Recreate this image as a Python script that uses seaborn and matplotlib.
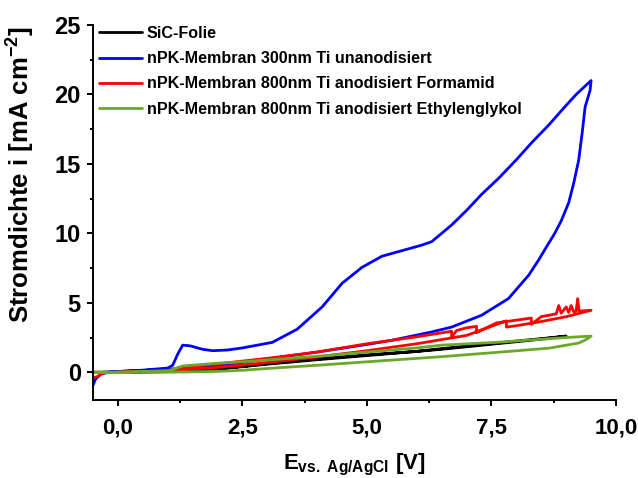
import numpy as np
import pandas as pd
import matplotlib
matplotlib.use("Agg")
import matplotlib.pyplot as plt
import seaborn as sns
from matplotlib.ticker import MultipleLocator, FuncFormatter

# ---------------- data ----------------
labels = ["SiC-Folie",
          "nPK-Membran 300nm Ti unanodisiert",
          "nPK-Membran 800nm Ti anodisiert Formamid",
          "nPK-Membran 800nm Ti anodisiert Ethylenglykol"]
colors = ["#000000", "#0000FF", "#FF0000", "#6BA82A"]

# SiC-Folie (forward + return, almost identical)
sic_E = [-0.5, 0.0, 1.0, 2.0, 2.5, 3.0, 4.0, 5.0, 6.0, 6.5, 7.6, 8.5, 9.0,
         8.5, 7.6, 6.5, 5.0, 4.0, 3.0, 2.0, 1.0, 0.0]
sic_i = [0.0, 0.0, 0.05, 0.25, 0.42, 0.62, 0.95, 1.25, 1.5, 1.7, 2.1, 2.42, 2.6,
         2.38, 2.05, 1.65, 1.2, 0.9, 0.58, 0.22, 0.04, 0.0]

# nPK 300nm unanodisiert
blue_E = [-0.5, -0.45, -0.35, -0.2, 0.0, 0.5, 1.0, 1.1, 1.2, 1.3, 1.45, 1.7, 1.9,
          2.2, 2.5, 3.1, 3.6, 4.1, 4.5, 4.9, 5.3, 5.7, 6.1, 6.3, 6.7, 7.0, 7.3,
          7.64, 8.0, 8.3, 8.65, 8.97, 9.2, 9.5,
          9.48, 9.38, 9.32, 9.25, 9.15, 9.05, 8.9, 8.77, 8.6, 8.45, 8.25, 7.84,
          7.3, 6.7, 6.3, 5.5, 5.0, 4.0, 3.0, 2.5, 2.0, 1.0, 0.0, -0.3]
blue_i = [-0.95, -0.5, -0.15, 0.0, 0.05, 0.15, 0.3, 0.5, 1.3, 1.95, 1.9, 1.65, 1.55,
          1.6, 1.75, 2.15, 3.1, 4.7, 6.4, 7.55, 8.35, 8.75, 9.15, 9.4, 10.6, 11.65, 12.8,
          13.95, 15.3, 16.5, 17.8, 19.1, 20.0, 21.0,
          20.3, 19.1, 17.2, 15.25, 13.6, 12.2, 10.9, 10.0, 9.0, 8.1, 7.0, 5.3,
          4.1, 3.25, 2.9, 2.3, 2.0, 1.45, 0.95, 0.7, 0.5, 0.2, 0.05, 0.0]

# nPK 800nm anodisiert Formamid (noisy loop)
red_E = [-0.5, -0.4, -0.3, 0.0, 1.0, 1.2, 2.0, 3.0, 4.0, 5.0, 6.0, 6.7, 6.7, 6.8,
         7.0, 7.2, 7.2, 7.6, 8.0, 8.3, 8.3, 8.5, 8.8, 8.85, 8.9, 9.0, 9.05,
         9.1, 9.15, 9.2, 9.23, 9.26, 9.5,
         9.0, 8.5, 8.0, 7.8, 7.8, 7.0, 6.0, 5.0, 4.0, 3.0, 2.0, 1.0, 0.0]
red_i = [-0.4, -0.3, -0.05, 0.0, 0.1, 0.3, 0.6, 1.0, 1.45, 2.05, 2.55, 2.95, 2.55, 3.0,
         3.2, 3.3, 2.85, 3.55, 3.75, 3.9, 3.45, 4.0, 4.2, 4.8, 4.25, 4.7, 4.3,
         4.8, 4.35, 4.4, 5.3, 4.4, 4.46,
         4.0, 3.65, 3.35, 3.25, 3.7, 2.65, 2.05, 1.55, 1.1, 0.7, 0.35, 0.1, 0.0]

# nPK 800nm anodisiert Ethylenglykol
green_E = [-0.5, 0.0, 1.0, 1.1, 1.3, 2.0, 2.5, 3.0, 4.0, 5.0, 6.0, 6.5, 7.6, 9.0, 9.5,
           9.4, 9.25, 8.65, 7.64, 6.5, 5.0, 4.0, 3.0, 2.5, 2.0, 1.0, 0.0, -0.5]
green_i = [0.0, 0.0, 0.1, 0.2, 0.45, 0.65, 0.75, 0.88, 1.15, 1.45, 1.75, 1.95, 2.15, 2.5, 2.6,
           2.35, 2.1, 1.73, 1.44, 1.12, 0.75, 0.5, 0.27, 0.14, 0.06, 0.0, 0.0, 0.0]

series = [(sic_E, sic_i), (blue_E, blue_i), (red_E, red_i), (green_E, green_i)]

x_ticks = [0.0, 2.5, 5.0, 7.5, 10.0]
y_ticks = [0, 5, 10, 15, 20, 25]

# ---------------- style ----------------
sns.set_style("ticks")
plt.rcParams["font.family"] = ["Liberation Sans", "DejaVu Sans"]
plt.rcParams["font.weight"] = "bold"
plt.rcParams["mathtext.fontset"] = "custom"
plt.rcParams["mathtext.rm"] = "Liberation Sans:bold"
plt.rcParams["mathtext.it"] = "Liberation Sans:bold"
plt.rcParams["mathtext.bf"] = "Liberation Sans:bold"
for key in ["text.color", "axes.labelcolor", "xtick.color", "ytick.color", "axes.edgecolor"]:
    plt.rcParams[key] = "black"

fig = plt.figure(figsize=(6.38, 4.78), dpi=100)
ax = fig.add_axes([93 / 638, 1 - 400 / 478, (616 - 93) / 638, (400 - 25) / 478])

for (E, I), lab, col in zip(series, labels, colors):
    df = pd.DataFrame({"E": E, "i": I})
    sns.lineplot(data=df, x="E", y="i", sort=False, estimator=None, color=col,
                 linewidth=2.0, label=lab, ax=ax)

ax.set_xlim(-0.5, 10.0)
ax.set_ylim(-2, 25)
ax.set_xticks(x_ticks)
ax.set_yticks(y_ticks)
ax.xaxis.set_minor_locator(MultipleLocator(1.25))
ax.yaxis.set_minor_locator(MultipleLocator(2.5))
ax.xaxis.set_major_formatter(FuncFormatter(lambda v, p: f"{v:.1f}".replace(".", ",")))
ax.yaxis.set_major_formatter(FuncFormatter(lambda v, p: f"{v:.0f}"))

for s in ["top", "right"]:
    ax.spines[s].set_visible(False)
for s in ["left", "bottom"]:
    ax.spines[s].set_linewidth(1.4)
    ax.spines[s].set_color("black")
ax.tick_params(which="major", direction="out", length=4.3, width=1.4, labelsize=17,
               color="black", labelcolor="black")
ax.tick_params(axis="x", which="major", labelsize=16, pad=8)
ax.tick_params(axis="y", which="major", pad=4.5)
ax.tick_params(which="minor", direction="out", length=2.5, width=1.4, color="black")
for t in ax.get_xticklabels() + ax.get_yticklabels():
    t.set_fontweight("bold")

ax.set_xlabel(r"$E_{vs.\ Ag/AgCl}$ [V]", fontsize=16, fontweight="bold", labelpad=10,
              color="black")
ax.set_ylabel(r"Stromdichte i [mA cm$^{-2}$]", fontsize=18.5, fontweight="bold",
              color="black")
ax.yaxis.set_label_coords(-0.108, 0.6)

leg = ax.legend(loc="upper left", bbox_to_anchor=(0.012, 0.997), frameon=False,
                prop={"size": 11.6, "weight": "bold"}, handlelength=2.65,
                handletextpad=0.3, labelspacing=0.63, borderaxespad=0.0,
                borderpad=0.0)
for h in leg.get_lines():
    h.set_linewidth(2.0)
for t in leg.get_texts():
    t.set_color("black")

fig.savefig("out.png", dpi=100)
